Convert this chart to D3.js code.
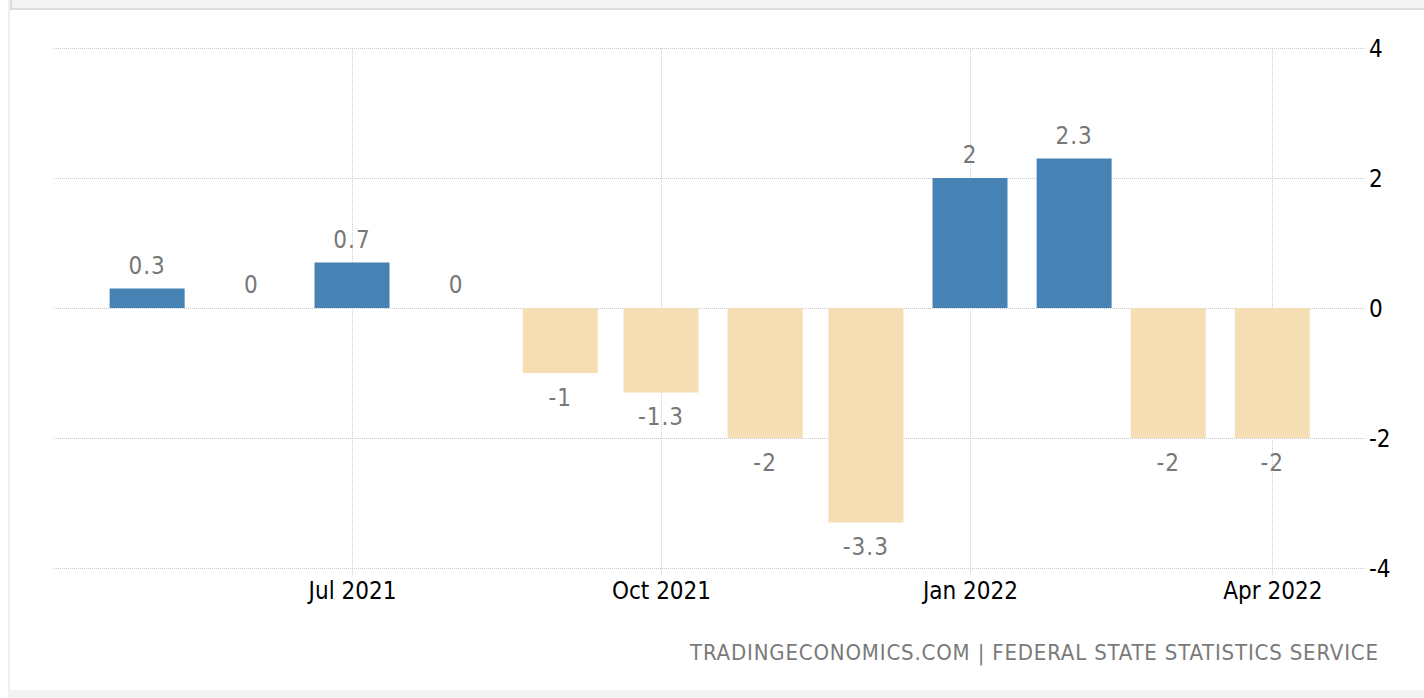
<!DOCTYPE html>
<html>
<head>
<meta charset="utf-8">
<script src="https://cdn.jsdelivr.net/npm/d3@7"></script>
<style>
  html, body { margin: 0; padding: 0; background: #ffffff; }
  svg { display: block; }
  text { font-family: "DejaVu Sans Condensed", "Open Sans", "DejaVu Sans", sans-serif; }
</style>
</head>
<body>
<svg id="chart" width="1424" height="698"></svg>
<script>
// ---- data ----
const months = ["2021-05-01","2021-06-01","2021-07-01","2021-08-01","2021-09-01","2021-10-01",
                "2021-11-01","2021-12-01","2022-01-01","2022-02-01","2022-03-01","2022-04-01"];
const values = [0.3, 0, 0.7, 0, -1, -1.3, -2, -3.3, 2, 2.3, -2, -2];
const xTickDates = ["2021-07-01","2021-10-01","2022-01-01","2022-04-01"];
const yTicks = [-4, -2, 0, 2, 4];
const footerText = "TRADINGECONOMICS.COM | FEDERAL STATE STATISTICS SERVICE";

const parse = d3.utcParse("%Y-%m-%d");
const data = months.map((m, i) => ({ date: parse(m), value: values[i] }));
const fmt = v => String(v); // plain hyphen-minus as in the reference

const svg = d3.select("#chart");

// page frame
svg.append("rect").attr("x", 8).attr("y", 0).attr("width", 2).attr("height", 698).attr("fill", "#f0f0f0");
svg.append("rect").attr("x", 10).attr("y", 0).attr("width", 1414).attr("height", 8).attr("fill", "#f4f4f4");
svg.append("rect").attr("x", 10).attr("y", 8).attr("width", 1414).attr("height", 2).attr("fill", "#dddddd");
svg.append("rect").attr("x", 10).attr("y", 0).attr("width", 2).attr("height", 10).attr("fill", "#dddddd");
svg.append("rect").attr("x", 8).attr("y", 690).attr("width", 1416).attr("height", 8).attr("fill", "#f3f3f3");

// scales
const x = d3.scaleUtc()
  .domain([new Date(Date.UTC(2021, 3, 3, 6, 30)), new Date(Date.UTC(2022, 3, 28, 21, 40))])
  .range([54, 1366]);
const y = d3.scaleLinear().domain([-4, 4]).range([568, 48]);

// horizontal grid
svg.append("g").selectAll("line").data(yTicks).join("line")
  .attr("x1", 54).attr("x2", 1366)
  .attr("y1", d => y(d) + 0.5).attr("y2", d => y(d) + 0.5)
  .attr("stroke", "#cccccc").attr("stroke-dasharray", "1,1");

// vertical grid at x ticks
const xTicks = xTickDates.map(parse);
svg.append("g").selectAll("line").data(xTicks).join("line")
  .attr("x1", d => Math.round(x(d)) + 0.5).attr("x2", d => Math.round(x(d)) + 0.5)
  .attr("y1", 48).attr("y2", 576)
  .attr("stroke", "#cccccc").attr("stroke-dasharray", "1,1");

// bars
const barW = 75;
svg.append("g").selectAll("rect").data(data).join("rect")
  .attr("x", d => x(d.date) - barW / 2)
  .attr("width", barW)
  .attr("y", d => y(Math.max(0, d.value)))
  .attr("height", d => Math.abs(y(d.value) - y(0)))
  .attr("fill", d => d.value >= 0 ? "#4682b4" : "#f5deb3");

// bar labels
svg.append("g").selectAll("text").data(data).join("text")
  .attr("x", d => x(d.date))
  .attr("y", d => d.value >= 0 ? y(d.value) - 15 : y(d.value) + 32.5)
  .attr("text-anchor", "middle")
  .attr("font-size", 24)
  .attr("letter-spacing", 1)
  .attr("fill", "#777777")
  .text(d => fmt(d.value));

// y axis labels (right)
const yAxis = d3.axisRight(y).tickValues(yTicks).tickSize(0).tickPadding(0).tickFormat(fmt);
const gy = svg.append("g").attr("transform", "translate(1369,0)").call(yAxis);
gy.select(".domain").remove();
gy.selectAll("text").attr("font-size", 24).attr("fill", "#000").attr("font-family", null).attr("dy", "0.35em");

// x axis labels
const xAxis = d3.axisBottom(x).tickValues(xTicks).tickSize(0).tickPadding(0).tickFormat(d3.utcFormat("%b %Y"));
const gx = svg.append("g").attr("transform", "translate(0,581)").call(xAxis);
gx.select(".domain").remove();
gx.selectAll("text").attr("font-size", 24).attr("fill", "#000").attr("font-family", null).attr("dy", "0.75em");

// footer
svg.append("text")
  .attr("x", 1378).attr("y", 660)
  .attr("text-anchor", "end")
  .attr("font-size", 22)
  .attr("textLength", 688)
  .attr("lengthAdjust", "spacing")
  .attr("fill", "#7a7a7a")
  .text(footerText);
</script>
</body>
</html>
